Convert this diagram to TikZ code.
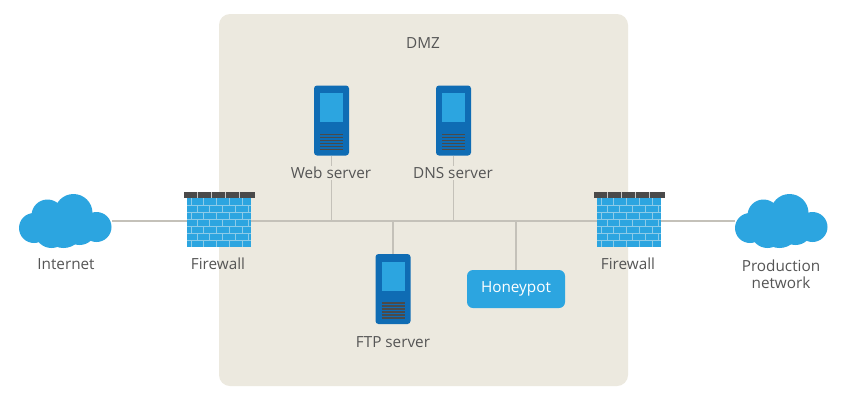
\documentclass[tikz,border=0pt]{standalone}
\usepackage{fontspec}
\setmainfont{Open Sans}
\definecolor{dmzbg}{HTML}{ECE9DF}
\definecolor{skyblue}{HTML}{2CA5E0}
\definecolor{darkblue}{HTML}{0F6CB4}
\definecolor{wire}{HTML}{C4C1B9}
\definecolor{capgrey}{HTML}{4A4A4A}
\definecolor{labelgrey}{HTML}{555555}
\definecolor{mortar}{HTML}{8CCBE8}
\tikzset{
    wireline/.style={wire,line width=1.2pt},
    lbl/.style={text=labelgrey,font=\fontsize{15.3}{17}\selectfont,align=center,inner sep=1pt},
    dmzlbl/.style={lbl,fill=dmzbg},
    serverbody/.style={fill=darkblue,rounded corners=3pt,minimum width=35pt,minimum height=70pt,inner sep=0pt},
    honeybox/.style={fill=skyblue,rounded corners=6pt,text=white,minimum width=98pt,minimum height=38pt,inner sep=0pt,font=\fontsize{15.3}{17}\selectfont},
    wallbody/.style={fill=skyblue,minimum width=64pt,minimum height=49pt,inner sep=0pt},
    cloudanchor/.style={inner sep=0pt,minimum width=93pt,minimum height=57pt},
    pics/server/.style={code={
        \fill[skyblue] (-11.5,-27.5) rectangle (11.5,1.5);
        \foreach \yy in {14,17,...,29}
            \draw[capgrey,line width=1.2pt] (-11.5,\yy) -- (11.5,\yy);
    }},
    pics/wall/.style={code={
        \fill[capgrey] (-35.5,-30.5) rectangle (35.5,-24.5);
        \foreach \xx in {-21.5,-7.5,6.5,20.5}
            \draw[white!70!capgrey,line width=0.5pt] (\xx,-30.5) -- (\xx,-24.5);
        \begin{scope}
            \clip (-32,-24.5) rectangle (32,24.5);
            \foreach \yy/\xs in {0/-28,1/-22,2/-28,3/-22,4/-28,5/-22,6/-28}
                \foreach \nn in {0,...,5}
                    \draw[mortar,line width=0.8pt] (\xs+\nn*12.8,{-24.5+\yy*7}) -- ++(0,7);
            \foreach \yy in {1,...,6}
                \draw[mortar,line width=0.8pt] (-32,{-24.5+\yy*7}) -- (32,{-24.5+\yy*7});
        \end{scope}
    }},
    pics/cloud/.style={code={
        \fill[skyblue] (-31.5,7) circle (15);
        \fill[skyblue] (-18,-5.5) circle (16);
        \fill[skyblue] (8,-8) circle (19);
        \fill[skyblue] (31,6) circle (15);
        \fill[skyblue] (-14,10) circle (17);
        \fill[skyblue] (-2,7) circle (20);
        \fill[skyblue] (14,7) circle (17);
    }}
}
\begin{document}
\begin{tikzpicture}[x=1pt,y=-1pt]
    \useasboundingbox (0,0) rectangle (851,416);
    \fill[white] (0,0) rectangle (851,416);
    \fill[dmzbg,rounded corners=11pt] (219,14) rectangle (628,386);

    % nodes
    \node[cloudanchor] (internet) at (65.5,221) {};
    \node[wallbody] (fwleft) at (219,222.5) {};
    \node[wallbody] (fwright) at (629,222.5) {};
    \node[cloudanchor] (production) at (781.5,221) {};
    \node[serverbody] (web) at (331.5,120.5) {};
    \node[serverbody] (dns) at (453.5,120.5) {};
    \node[serverbody] (ftp) at (393,289) {};
    \node[honeybox] (honeypot) at (516,289) {Honeypot};
    \coordinate (busweb) at (331.5,221);
    \coordinate (busdns) at (453.5,221);
    \coordinate (busftp) at (393,221);
    \coordinate (bushoney) at (516,221);

    % wires
    \draw[wireline] (internet.east) -- (fwleft.west |- internet.east);
    \draw[wireline] (fwleft.east |- internet.east) -- (fwright.west |- production.west);
    \draw[wireline] (fwright.east |- production.west) -- (production.west);
    \draw[wireline] (web.south) -- (busweb);
    \draw[wireline] (dns.south) -- (busdns);
    \draw[wireline] (ftp.north) -- (busftp);
    \draw[wireline] (honeypot.north) -- (bushoney);

    \pic at (internet) {cloud};
    \pic at (production) {cloud};
    \pic at (fwleft) {wall};
    \pic at (fwright) {wall};
    \pic at (web) {server};
    \pic at (dns) {server};
    \pic at (ftp) {server};

    % labels
    \node[lbl] (dmzlabel) at (423,43) {DMZ};
    \node[dmzlbl] (weblabel) at (331,173) {Web server};
    \node[dmzlbl] (dnslabel) at (453,173) {DNS server};
    \node[lbl] (ftplabel) at (393,342) {FTP server};
    \node[lbl] (inetlabel) at (66,264) {Internet};
    \node[lbl] (fwleftlabel) at (218,264) {Firewall};
    \node[lbl] (fwrightlabel) at (628,264) {Firewall};
    \node[lbl] (prodlabel) at (781,274) {Production\\network};
\end{tikzpicture}
\end{document}
